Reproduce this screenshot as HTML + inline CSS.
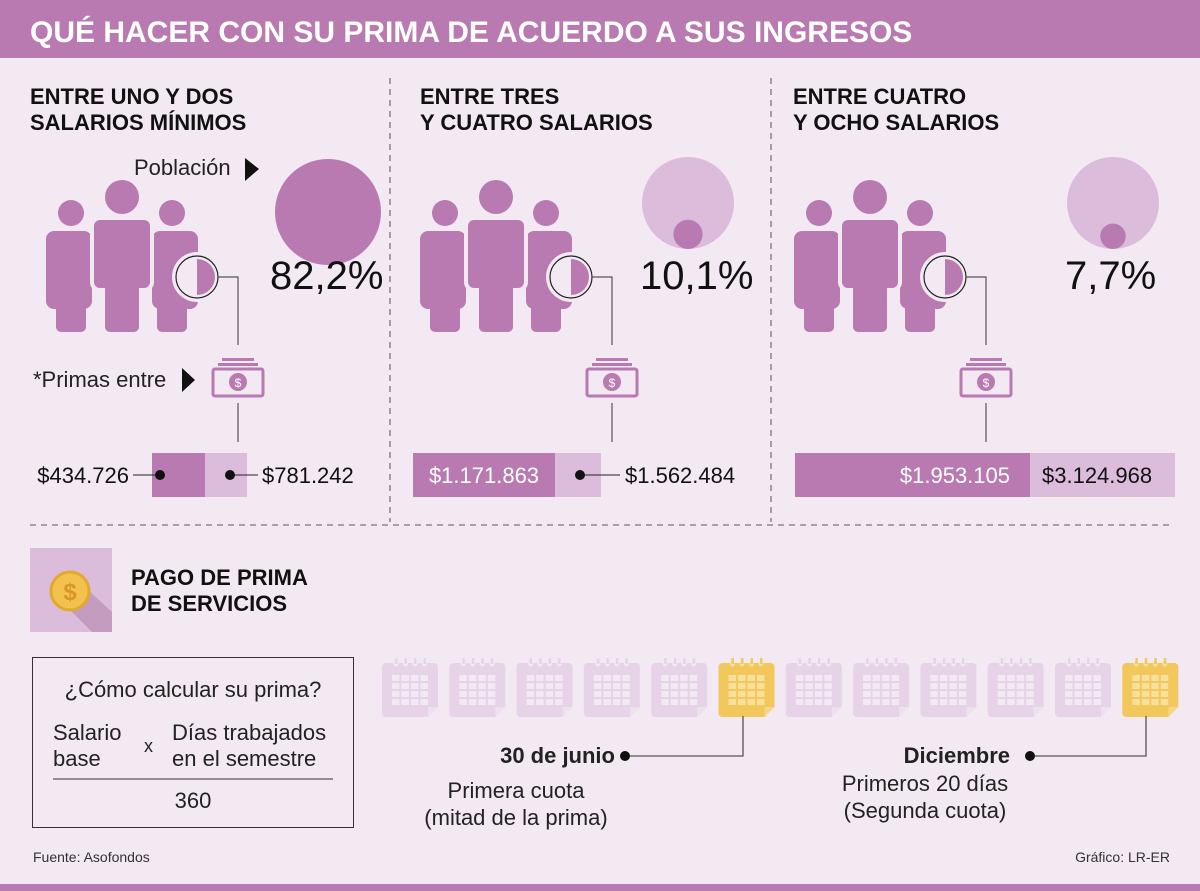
<!DOCTYPE html>
<html><head><meta charset="utf-8"><style>
body{margin:0;background:#f2e9f3;}
svg{display:block;font-family:"Liberation Sans",sans-serif;}
</style></head><body>
<svg id="s" width="1200" height="891" viewBox="0 0 1200 891">
<rect x="0" y="0" width="1200" height="891" fill="#f2e9f3"/>
<rect x="0" y="0" width="1200" height="58" fill="#b97ab1"/>
<text x="30" y="42" fill="#fff" font-size="30" font-weight="bold">QUÉ HACER CON SU PRIMA DE ACUERDO A SUS INGRESOS</text>
<g stroke="#777" stroke-dasharray="6,5" stroke-width="1.3">
<line x1="390" y1="78" x2="390" y2="522"/>
<line x1="771" y1="78" x2="771" y2="522"/>
<line x1="30" y1="525" x2="1172" y2="525"/>
</g>
<g font-size="22" font-weight="bold" fill="#111">
<text x="30" y="104">ENTRE UNO Y DOS</text>
<text x="30" y="130">SALARIOS MÍNIMOS</text>
<text x="420" y="104">ENTRE TRES</text>
<text x="420" y="130">Y CUATRO SALARIOS</text>
<text x="793" y="104">ENTRE CUATRO</text>
<text x="793" y="130">Y OCHO SALARIOS</text>
</g>
<text x="134" y="175" font-size="22" fill="#222">Población</text>
<polygon points="245,158 259,169 245,181" fill="#111"/>
<text x="33" y="387" font-size="22" fill="#222">*Primas entre</text>
<polygon points="182,368 195,380 182,392" fill="#111"/>
<g id="sections"></g>
<rect x="30" y="548" width="82" height="84" fill="#dcbcdb"/>
<polygon points="70,610 88,590 112,612 112,632 92,632" fill="#c39cc0"/>
<circle cx="70" cy="591" r="19" fill="#f2c14e" stroke="#e3a92c" stroke-width="3"/>
<text x="70" y="600" font-size="24" font-weight="bold" fill="#d8962a" text-anchor="middle">$</text>
<text x="131" y="585" font-size="22" font-weight="bold" fill="#111">PAGO DE PRIMA</text>
<text x="131" y="611" font-size="22" font-weight="bold" fill="#111">DE SERVICIOS</text>
<rect x="32.5" y="657.5" width="321" height="170" fill="none" stroke="#333" stroke-width="1"/>
<g font-size="22" fill="#222">
<text x="193" y="697" text-anchor="middle">¿Cómo calcular su prima?</text>
<text x="53" y="740">Salario</text>
<text x="53" y="766">base</text>
<text x="144" y="752" font-size="18">x</text>
<text x="172" y="740">Días trabajados</text>
<text x="172" y="766">en el semestre</text>
<text x="193" y="808" text-anchor="middle">360</text>
</g>
<line x1="53" y1="779" x2="333" y2="779" stroke="#333"/>
<g id="cals"></g>
<g fill="none" stroke="#555" stroke-width="1.3">
<polyline points="743,716 743,756 625,756"/>
<polyline points="1146,716 1146,756 1030,756"/>
</g>
<circle cx="625" cy="756" r="5" fill="#111"/><circle cx="1030" cy="756" r="5" fill="#111"/>
<g font-size="22" fill="#222">
<text x="615" y="763" text-anchor="end" font-weight="bold">30 de junio</text>
<text x="516" y="798" text-anchor="middle">Primera cuota</text>
<text x="516" y="825" text-anchor="middle">(mitad de la prima)</text>
<text x="1010" y="763" text-anchor="end" font-weight="bold">Diciembre</text>
<text x="925" y="791" text-anchor="middle">Primeros 20 días</text>
<text x="925" y="818" text-anchor="middle">(Segunda cuota)</text>
</g>
<text x="33" y="862" font-size="14" fill="#333">Fuente: Asofondos</text>
<text x="1170" y="862" font-size="14" fill="#333" text-anchor="end">Gráfico: LR-ER</text>
<rect x="0" y="884" width="1200" height="7" fill="#b97ab1"/>
</svg>
<script>
const percentLabels=["82,2%","10,1%","7,7%"];
const percentValues=[82.2,10.1,7.7];
const lowLabels=["$434.726","$1.171.863","$1.953.105"];
const highLabels=["$781.242","$1.562.484","$3.124.968"];
const NS="http://www.w3.org/2000/svg";
function mk(tag,attrs,parent){const e=document.createElementNS(NS,tag);for(const k in attrs)e.setAttribute(k,attrs[k]);parent.appendChild(e);return e;}
const P="#b97ab1",L="#dcbcdb";
const sec=document.getElementById('sections');
const offs=[0,374,748];
const bars=[[152,205,247],[413,555,601],[795,1030,1175]];
offs.forEach((o,i)=>{
  const g=mk('g',{transform:`translate(${o},0)`},sec);
  
  
  mk('circle',{cx:71,cy:213,r:13,fill:P},g);
  mk('rect',{x:46,y:231,width:46,height:78,rx:8,fill:P},g);
  mk('rect',{x:56,y:280,width:30,height:52,rx:5,fill:P},g);
  mk('circle',{cx:172,cy:213,r:13,fill:P},g);
  mk('rect',{x:152,y:231,width:46,height:78,rx:8,fill:P},g);
  mk('rect',{x:157,y:280,width:30,height:52,rx:5,fill:P},g);
  mk('rect',{x:103,y:280,width:38,height:53,rx:5,fill:"#f2e9f3"},g);
  mk('rect',{x:92,y:218,width:60,height:72,rx:8,fill:P,stroke:"#f2e9f3","stroke-width":4},g);
  mk('circle',{cx:122,cy:197,r:17,fill:P},g);
  mk('rect',{x:105,y:282,width:34,height:50,rx:5,fill:P},g);
  mk('circle',{cx:197,cy:277,r:25,fill:"#f2e9f3"},g);
  mk('path',{d:"M197,259 A18,18 0 0 1 197,295 Z",fill:P},g);
  mk('circle',{cx:197,cy:277,r:21,fill:"none",stroke:"#222","stroke-width":1.2},g);
  mk('polyline',{points:"218,277 238,277 238,345",fill:"none",stroke:"#555","stroke-width":1.2},g);
  mk('line',{x1:238,y1:403,x2:238,y2:442,stroke:"#555","stroke-width":1.2},g);
  mk('rect',{x:222,y:358,width:32,height:3,fill:P},g);
  mk('rect',{x:218,y:363,width:40,height:3,fill:P},g);
  mk('rect',{x:213,y:369,width:50,height:27,rx:2,fill:"none",stroke:P,"stroke-width":3},g);
  mk('circle',{cx:238,cy:382,r:9,fill:P},g);
  const t=mk('text',{x:238,y:387,"font-size":12,fill:"#fff","text-anchor":"middle"},g);t.textContent="$";
  const circ=mk('g',{},g);
  
  
  if(percentValues[i]>50){mk('circle',{cx:328,cy:212,r:53,fill:P},circ);}
  else{
    const ccx=[328,314,365][i];
    mk('circle',{cx:ccx,cy:203,r:46,fill:L},circ);
    const r=46*Math.sqrt(percentValues[i]/100);
    mk('circle',{cx:ccx,cy:249-r,r:r,fill:P},circ);
  }
  const px=[270,266,317][i];
  const pt=mk('text',{x:px,y:289,"font-size":40,fill:"#111"},g);
  pt.textContent=percentLabels[i];
  
  
});
bars.forEach((b,i)=>{
  const d=mk('rect',{x:b[0],y:453,width:b[1]-b[0],height:44,fill:P},sec);
  
  
  const l=mk('rect',{x:b[1],y:453,width:b[2]-b[1],height:44,fill:L},sec);
  
  
});
function txt(x,y,s,attrs){const t=mk('text',Object.assign({x:x,y:y,"font-size":22,fill:"#111"},attrs||{}),sec);t.textContent=s;return t;}
mk('line',{x1:133,y1:475,x2:160,y2:475,stroke:"#222"},sec);mk('circle',{cx:160,cy:475,r:5,fill:"#111"},sec);
mk('line',{x1:230,y1:475,x2:258,y2:475,stroke:"#222"},sec);mk('circle',{cx:230,cy:475,r:5,fill:"#111"},sec);
txt(129,483,lowLabels[0],{"text-anchor":"end"});txt(262,483,highLabels[0]);
txt(484,483,lowLabels[1],{"text-anchor":"middle",fill:"#fff"});
mk('line',{x1:580,y1:475,x2:620,y2:475,stroke:"#222"},sec);mk('circle',{cx:580,cy:475,r:5,fill:"#111"},sec);
txt(625,483,highLabels[1]);
txt(1010,483,lowLabels[2],{"text-anchor":"end",fill:"#fff"});
txt(1042,483,highLabels[2]);
const cals=document.getElementById('cals');
const calCount=12, highlighted=[5,11];
for(let i=0;i<calCount;i++){
  const x=382+i*67.3, y=658;
  const hi=highlighted.includes(i);
  const c=hi?"#f2c75c":"#e6d3e8", w=hi?"#f7df9c":"#f2e9f3";
  const g=mk('g',{},cals);
  
  
  mk('path',{d:`M${x+4},${y+5} h48 a4,4 0 0 1 4,4 v40 l-10,10 h-42 a4,4 0 0 1 -4,-4 v-46 a4,4 0 0 1 4,-4 z`,fill:c},g);
  for(let k=0;k<4;k++){mk('circle',{cx:x+14+k*9.5,cy:y+6,r:2.5,fill:w},g);mk('rect',{x:x+13+k*9.5,y:y,width:2.5,height:6,fill:c},g);}
  for(let r=0;r<4;r++)for(let q=0;q<4;q++){
    mk('rect',{x:x+10+q*9.5,y:y+17+r*8,width:7.5,height:6,fill:w},g);
  }
  mk('polygon',{points:`${x+56},${y+49} ${x+46},${y+49} ${x+46},${y+59}`,fill:w,opacity:0.6},g);
}
</script>
</body></html>
